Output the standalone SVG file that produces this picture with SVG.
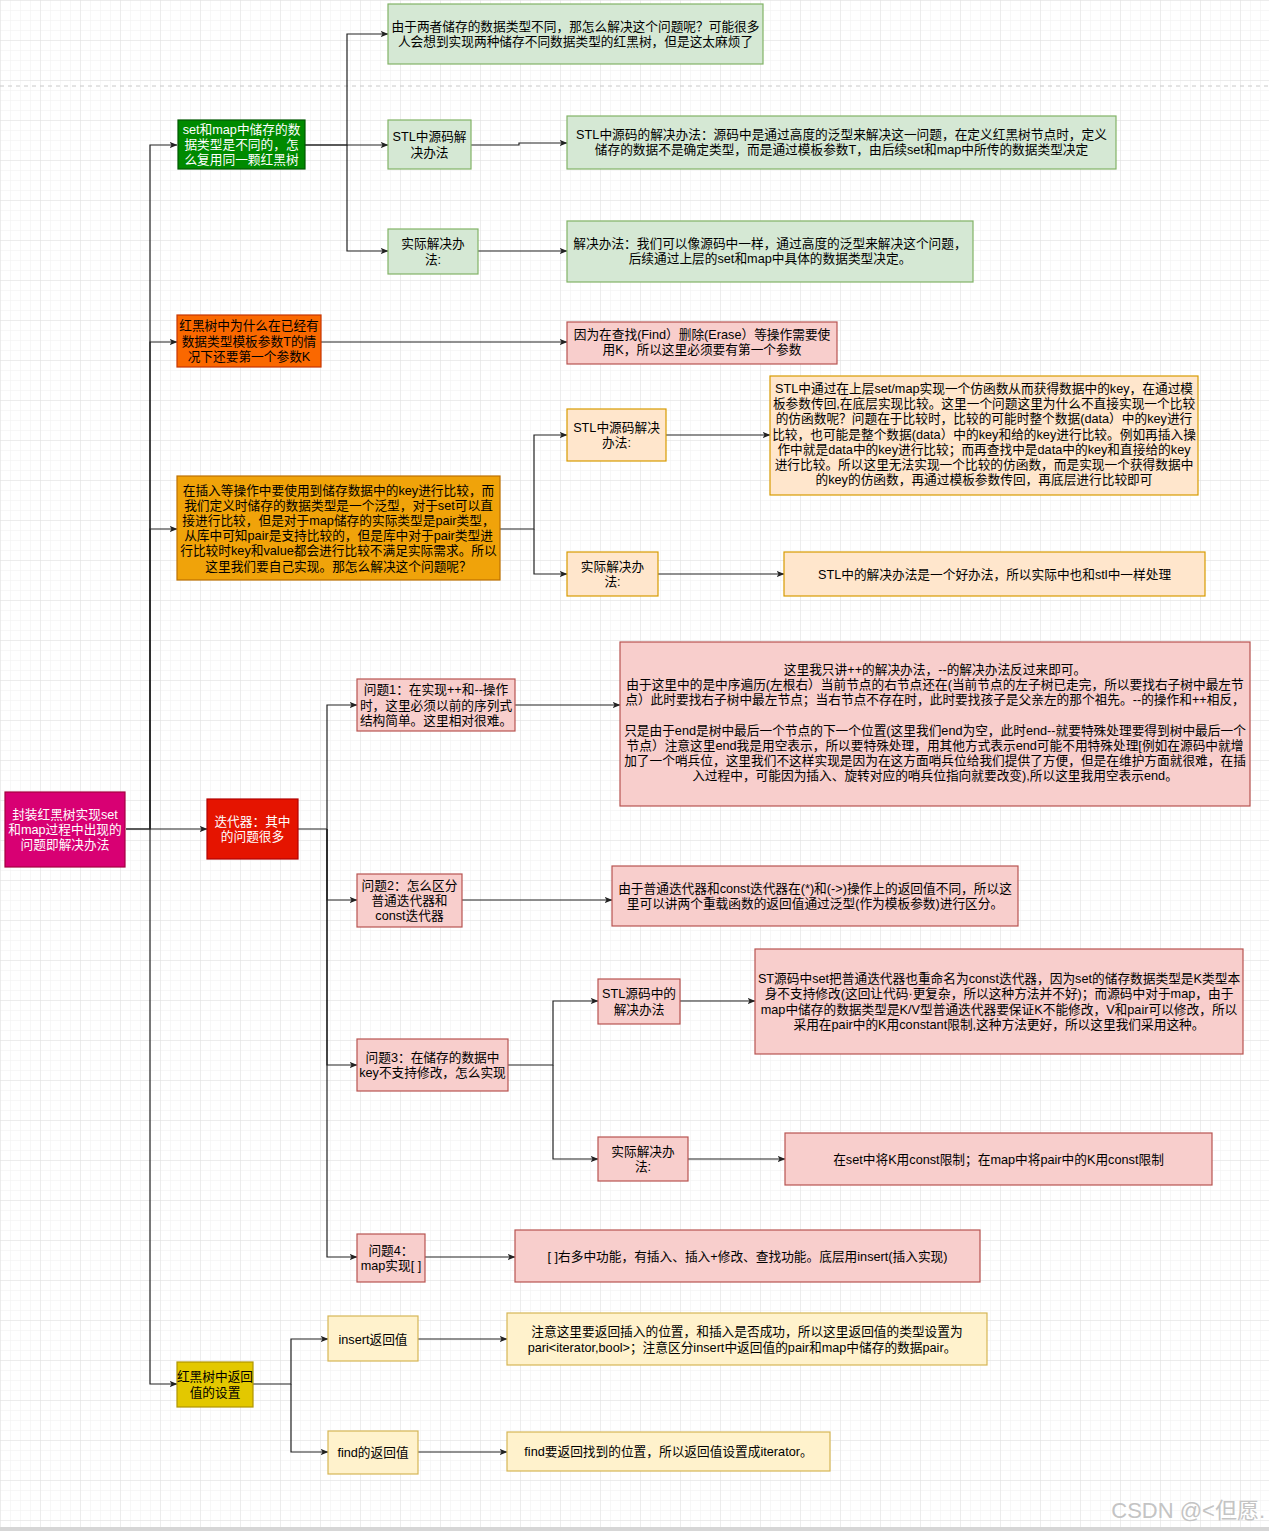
<svg xmlns="http://www.w3.org/2000/svg" width="1269" height="1531" viewBox="0 0 1269 1531">
<defs>
<pattern id="minor" width="10" height="10" patternUnits="userSpaceOnUse">
<path d="M10 0H0V10" fill="none" stroke="#efefef" stroke-width="1"/>
</pattern>
<pattern id="major" width="40" height="40" patternUnits="userSpaceOnUse">
<rect width="40" height="40" fill="url(#minor)"/>
<path d="M40 0H0V40" fill="none" stroke="#e0e0e0" stroke-width="1"/>
</pattern>
<marker id="arr" viewBox="0 0 8 8" refX="7.5" refY="4" markerWidth="8" markerHeight="8" markerUnits="userSpaceOnUse" orient="auto">
<path d="M0 0.8 L8 4 L0 7.2 L2 4 Z" fill="#222"/>
</marker>
<style>
.t{font-family:"Liberation Sans","Noto Sans CJK SC",sans-serif;font-size:12.7px;text-anchor:middle;fill:#000}
.w{fill:#fff}
.e{fill:none;stroke:#222;stroke-width:1.2;marker-end:url(#arr)}
.l{fill:none;stroke:#222;stroke-width:1.2}
.b{stroke-width:1.2}
.gdark{fill:#008a00;stroke:#005700}
.glight{fill:#d5e8d4;stroke:#82b366}
.orange{fill:#fa6800;stroke:#C73500}
.pink{fill:#f8cecc;stroke:#b85450}
.amber{fill:#f0a30a;stroke:#BD7000}
.lorange{fill:#ffe6cc;stroke:#d79b00}
.red{fill:#e51400;stroke:#B20000}
.magenta{fill:#d80073;stroke:#A50040}
.yellow{fill:#e3c800;stroke:#B09500}
.lyellow{fill:#fff2cc;stroke:#d6b656}
</style>
</defs>
<rect width="1269" height="1531" fill="#fff"/>
<rect width="1269" height="1531" fill="url(#major)"/>
<path d="M0 86H1269" stroke="#c8c8c8" stroke-dasharray="4 4" fill="none"/>
<rect x="0" y="1527" width="1269" height="4" fill="#d6d6d6"/>

<g id="connectors">
<path class="e" d="M126 829H150V145H177"/>
<path class="e" d="M150 829V342H177"/>
<path class="e" d="M150 829V529H177"/>
<path class="e" d="M126 829H207"/>
<path class="e" d="M150 829V1384H177"/>
<path class="e" d="M305 145H347V34H388"/>
<path class="e" d="M305 145H388"/>
<path class="e" d="M347 145V251H388"/>
<path class="e" d="M471 145H519V143H567"/>
<path class="e" d="M478 251H567"/>
<path class="e" d="M321 342H567"/>
<path class="e" d="M500 529H534V435H567"/>
<path class="e" d="M534 529V574H567"/>
<path class="e" d="M666 435H770"/>
<path class="e" d="M658 574H784"/>
<path class="e" d="M298 829H327V705H357"/>
<path class="e" d="M327 829V900H357"/>
<path class="e" d="M327 829V1065H357"/>
<path class="e" d="M327 829V1257H357"/>
<path class="e" d="M515 705H620"/>
<path class="e" d="M462 900H612"/>
<path class="e" d="M508 1065H553V1001H598"/>
<path class="e" d="M553 1065V1159H598"/>
<path class="e" d="M680 1001H755"/>
<path class="e" d="M688 1159H785"/>
<path class="e" d="M425 1257H515"/>
<path class="e" d="M253 1384H291V1339H328"/>
<path class="e" d="M291 1384V1452H328"/>
<path class="e" d="M418 1339H507"/>
<path class="e" d="M418 1452H507"/>
</g>

<g id="root">
<rect class="magenta b" x="5" y="792" width="120" height="75"/>
<text class="t w" x="65" y="818.8">封装红黑树实现set<tspan x="65" dy="15.2">和map过程中出现的</tspan><tspan x="65" dy="15.2">问题即解决办法</tspan></text>
</g>

<g id="n-reuse">
<rect class="gdark b" x="178" y="120" width="127" height="49"/>
<text class="t w" x="241.5" y="133.8">set和map中储存的数<tspan x="241.5" dy="15.2">据类型是不同的，怎</tspan><tspan x="241.5" dy="15.2">么复用同一颗红黑树</tspan></text>
</g>

<g id="n-two-trees">
<rect class="glight b" x="388" y="4" width="375" height="60"/>
<text class="t" x="575.5" y="30.5">由于两者储存的数据类型不同，那怎么解决这个问题呢？可能很多<tspan x="575.5" dy="15.6">人会想到实现两种储存不同数据类型的红黑树，但是这太麻烦了</tspan></text>
</g>

<g id="n-stl1">
<rect class="glight b" x="388" y="120" width="83" height="49"/>
<text class="t" x="429.5" y="141.4">STL中源码解<tspan x="429.5" dy="15.2">决办法</tspan></text>
</g>

<g id="n-act1">
<rect class="glight b" x="388" y="229" width="90" height="45"/>
<text class="t" x="433" y="248.4">实际解决办<tspan x="433" dy="15.2">法:</tspan></text>
</g>

<g id="n-stl1-d">
<rect class="glight b" x="567" y="116" width="549" height="53"/>
<text class="t" x="841.5" y="139">STL中源码的解决办法：源码中是通过高度的泛型来解决这一问题，在定义红黑树节点时，定义<tspan x="841.5" dy="15.2">储存的数据不是确定类型，而是通过模板参数T，由后续set和map中所传的数据类型决定</tspan></text>
</g>

<g id="n-act1-d">
<rect class="glight b" x="567" y="221" width="406" height="61"/>
<text class="t" x="770" y="248">解决办法：我们可以像源码中一样，通过高度的泛型来解决这个问题，<tspan x="770" dy="15.2">后续通过上层的set和map中具体的数据类型决定。</tspan></text>
</g>

<g id="n-paramK">
<rect class="orange b" x="177" y="315" width="144" height="52"/>
<text class="t" x="249" y="330.3">红黑树中为什么在已经有<tspan x="249" dy="15.2">数据类型模板参数T的情</tspan><tspan x="249" dy="15.2">况下还要第一个参数K</tspan></text>
</g>

<g id="n-paramK-d">
<rect class="pink b" x="567" y="322" width="270" height="42"/>
<text class="t" x="702" y="338.5">因为在查找(Find）删除(Erase）等操作需要使<tspan x="702" dy="15.2">用K，所以这里必须要有第一个参数</tspan></text>
</g>

<g id="n-compare">
<rect class="amber b" x="177" y="476" width="323" height="104"/>
<text class="t" x="338.5" y="494.5">在插入等操作中要使用到储存数据中的key进行比较，而<tspan x="338.5" dy="15.2">我们定义时储存的数据类型是一个泛型，对于set可以直</tspan><tspan x="338.5" dy="15.2">接进行比较，但是对于map储存的实际类型是pair类型，</tspan><tspan x="338.5" dy="15.2">从库中可知pair是支持比较的，但是库中对于pair类型进</tspan><tspan x="338.5" dy="15.2">行比较时key和value都会进行比较不满足实际需求。所以</tspan><tspan x="338.5" dy="15.2">这里我们要自己实现。那怎么解决这个问题呢？</tspan></text>
</g>

<g id="n-stl2">
<rect class="lorange b" x="567" y="409" width="99" height="52"/>
<text class="t" x="616.5" y="431.9">STL中源码解决<tspan x="616.5" dy="15.2">办法:</tspan></text>
</g>

<g id="n-stl2-d">
<rect class="lorange b" x="770" y="376" width="428" height="119"/>
<text class="t" x="984" y="393">STL中通过在上层set/map实现一个仿函数从而获得数据中的key，在通过模<tspan x="984" dy="15.2">板参数传回,在底层实现比较。这里一个问题这里为什么不直接实现一个比较</tspan><tspan x="984" dy="15.2">的仿函数呢？问题在于比较时，比较的可能时整个数据(data）中的key进行</tspan><tspan x="984" dy="15.2">比较，也可能是整个数据(data）中的key和给的key进行比较。例如再插入操</tspan><tspan x="984" dy="15.2">作中就是data中的key进行比较；而再查找中是data中的key和直接给的key</tspan><tspan x="984" dy="15.2">进行比较。所以这里无法实现一个比较的仿函数，而是实现一个获得数据中</tspan><tspan x="984" dy="15.2">的key的仿函数，再通过模板参数传回，再底层进行比较即可</tspan></text>
</g>

<g id="n-act2">
<rect class="lorange b" x="567" y="552" width="91" height="44"/>
<text class="t" x="612.5" y="570.9">实际解决办<tspan x="612.5" dy="15.2">法:</tspan></text>
</g>

<g id="n-act2-d">
<rect class="lorange b" x="784" y="552" width="421" height="44"/>
<text class="t" x="994.5" y="578.5">STL中的解决办法是一个好办法，所以实际中也和stl中一样处理</text>
</g>

<g id="n-iter">
<rect class="red b" x="207" y="799" width="91" height="60"/>
<text class="t w" x="252.5" y="825.9">迭代器：其中<tspan x="252.5" dy="15.2">的问题很多</tspan></text>
</g>

<g id="n-q1">
<rect class="pink b" x="357" y="679" width="158" height="52"/>
<text class="t" x="436" y="694.3">问题1：在实现++和--操作<tspan x="436" dy="15.2">时，这里必须以前的序列式</tspan><tspan x="436" dy="15.2">结构简单。这里相对很难。</tspan></text>
</g>

<g id="n-q1-d">
<rect class="pink b" x="620" y="642" width="630" height="164"/>
<text class="t" x="935" y="674">这里我只讲++的解决办法，--的解决办法反过来即可。<tspan x="935" dy="15.2">由于这里中的是中序遍历(左根右）当前节点的右节点还在(当前节点的左子树已走完，所以要找右子树中最左节</tspan><tspan x="935" dy="15.2">点）此时要找右子树中最左节点；当右节点不存在时，此时要找孩子是父亲左的那个祖先。--的操作和++相反，</tspan><tspan x="935" dy="30.4">只是由于end是树中最后一个节点的下一个位置(这里我们end为空，此时end--就要特殊处理要得到树中最后一个</tspan><tspan x="935" dy="15.2">节点）注意这里end我是用空表示，所以要特殊处理，用其他方式表示end可能不用特殊处理[例如在源码中就增</tspan><tspan x="935" dy="15.2">加了一个哨兵位，这里我们不这样实现是因为在这方面哨兵位给我们提供了方便，但是在维护方面就很难，在插</tspan><tspan x="935" dy="15.2">入过程中，可能因为插入、旋转对应的哨兵位指向就要改变),所以这里我用空表示end。</tspan></text>
</g>

<g id="n-q2">
<rect class="pink b" x="357" y="874" width="105" height="53"/>
<text class="t" x="409.5" y="889.8">问题2：怎么区分<tspan x="409.5" dy="15.2">普通迭代器和</tspan><tspan x="409.5" dy="15.2">const迭代器</tspan></text>
</g>

<g id="n-q2-d">
<rect class="pink b" x="612" y="866" width="406" height="60"/>
<text class="t" x="815" y="892.9">由于普通迭代器和const迭代器在(*)和(-&gt;)操作上的返回值不同，所以这<tspan x="815" dy="15.2">里可以讲两个重载函数的返回值通过泛型(作为模板参数)进行区分。</tspan></text>
</g>

<g id="n-q3">
<rect class="pink b" x="357" y="1039" width="151" height="52"/>
<text class="t" x="432.5" y="1061.9">问题3：在储存的数据中<tspan x="432.5" dy="15.2">key不支持修改，怎么实现</tspan></text>
</g>

<g id="n-stl3">
<rect class="pink b" x="598" y="979" width="82" height="45"/>
<text class="t" x="639" y="998.4">STL源码中的<tspan x="639" dy="15.2">解决办法</tspan></text>
</g>

<g id="n-stl3-d">
<rect class="pink b" x="755" y="949" width="488" height="105"/>
<text class="t" x="999" y="983.2">ST源码中set把普通迭代器也重命名为const迭代器，因为set的储存数据类型是K类型本<tspan x="999" dy="15.2">身不支持修改(这回让代码·更复杂，所以这种方法并不好)；而源码中对于map，由于</tspan><tspan x="999" dy="15.2">map中储存的数据类型是K/V型普通迭代器要保证K不能修改，V和pair可以修改，所以</tspan><tspan x="999" dy="15.2">采用在pair中的K用constant限制,这种方法更好，所以这里我们采用这种。</tspan></text>
</g>

<g id="n-act3">
<rect class="pink b" x="598" y="1137" width="90" height="44"/>
<text class="t" x="643" y="1155.9">实际解决办<tspan x="643" dy="15.2">法:</tspan></text>
</g>

<g id="n-act3-d">
<rect class="pink b" x="785" y="1133" width="427" height="52"/>
<text class="t" x="998.5" y="1163.5">在set中将K用const限制；在map中将pair中的K用const限制</text>
</g>

<g id="n-q4">
<rect class="pink b" x="357" y="1234" width="68" height="48"/>
<text class="t" x="391" y="1254.9">问题4：<tspan x="391" dy="15.2">map实现[ ]</tspan></text>
</g>

<g id="n-q4-d">
<rect class="pink b" x="515" y="1230" width="465" height="52"/>
<text class="t" x="747.5" y="1260.5">[ ]右多中功能，有插入、插入+修改、查找功能。底层用insert(插入实现)</text>
</g>

<g id="n-ret">
<rect class="yellow b" x="177" y="1362" width="76" height="45"/>
<text class="t" x="215" y="1381.4">红黑树中返回<tspan x="215" dy="15.2">值的设置</tspan></text>
</g>

<g id="n-insert">
<rect class="lyellow b" x="328" y="1316" width="90" height="45"/>
<text class="t" x="373" y="1343.5">insert返回值</text>
</g>

<g id="n-insert-d">
<rect class="lyellow b" x="507" y="1313" width="480" height="52"/>
<text class="t" x="747" y="1335.5">注意这里要返回插入的位置，和插入是否成功，所以这里返回值的类型设置为<tspan x="742" dy="16.5">pari&lt;iterator,bool&gt;；注意区分insert中返回值的pair和map中储存的数据pair。</tspan></text>
</g>

<g id="n-find">
<rect class="lyellow b" x="328" y="1431" width="90" height="43"/>
<text class="t" x="373" y="1456.5">find的返回值</text>
</g>

<g id="n-find-d">
<rect class="lyellow b" x="507" y="1432" width="323" height="39"/>
<text class="t" x="668.5" y="1456">find要返回找到的位置，所以返回值设置成iterator。</text>
</g>

<text x="1265" y="1518" style="font-family:'Liberation Sans','Noto Sans CJK SC',sans-serif;font-size:22px;text-anchor:end;fill:#c4c4c4">CSDN @&lt;但愿.</text>
</svg>
